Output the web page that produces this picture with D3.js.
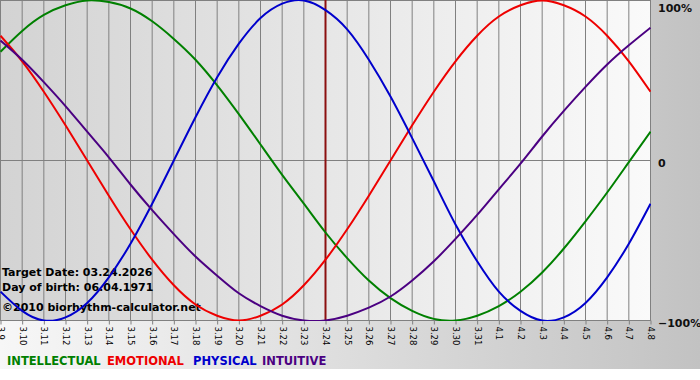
<!DOCTYPE html>
<html>
<head>
<meta charset="utf-8">
<script src="https://cdn.jsdelivr.net/npm/d3@7"></script>
<style>
  body { margin: 0; background: #fff; }
  svg { display: block; }
</style>
</head>
<body>
<div class="chart"></div>
<script>
// --------------------------------------------------------
// DATA (one per day)
// --------------------------------------------------------
const days = ["3.9", "3.10", "3.11", "3.12", "3.13", "3.14", "3.15", "3.16", "3.17", "3.18",
  "3.19", "3.20", "3.21", "3.22", "3.23", "3.24", "3.25", "3.26", "3.27", "3.28", "3.29",
  "3.30", "3.31", "4.1", "4.2", "4.3", "4.4", "4.5", "4.6", "4.7", "4.8"];

const intellectual = [0.68, 0.81, 0.91, 0.97, 1.0, 0.99, 0.95, 0.87, 0.76, 0.63, 0.47, 0.29,
  0.1, -0.09, -0.27, -0.45, -0.61, -0.75, -0.86, -0.94, -0.99, -1.0, -0.97, -0.91, -0.82,
  -0.7, -0.55, -0.38, -0.2, -0.01, 0.18];

const emotional = [0.78, 0.62, 0.43, 0.22, 0, -0.22, -0.43, -0.62, -0.78, -0.9, -0.97, -1.0,
  -0.97, -0.9, -0.78, -0.62, -0.43, -0.22, 0, 0.22, 0.43, 0.62, 0.78, 0.9, 0.97, 1.0, 0.97,
  0.9, 0.78, 0.62, 0.43];

const physical = [-0.82, -0.94, -1.0, -0.98, -0.89, -0.73, -0.52, -0.27, 0, 0.27, 0.52, 0.73,
  0.89, 0.98, 1.0, 0.94, 0.82, 0.63, 0.4, 0.14, -0.13, -0.4, -0.63, -0.82, -0.94, -1.0, -0.98,
  -0.89, -0.73, -0.52, -0.27];

const intuitive = [0.75, 0.63, 0.49, 0.34, 0.18, 0.02, -0.15, -0.31, -0.46, -0.6, -0.72, -0.83,
  -0.91, -0.97, -1.0, -1.0, -0.97, -0.92, -0.85, -0.75, -0.63, -0.49, -0.34, -0.18, -0.02,
  0.15, 0.31, 0.46, 0.6, 0.72, 0.83];

const seriesNames = ["INTELLECTUAL", "EMOTIONAL", "PHYSICAL", "INTUITIVE"];
const seriesColors = ["#008000", "#ee0000", "#0000cc", "#4b0082"];
const percentTicks = [1, 0, -1];
const targetDay = "3.24";
const infoLines = ["Target Date: 03.24.2026", "Day of birth: 06.04.1971", "\u00a92010 biorhythm-calculator.net"];

// --------------------------------------------------------
// LAYOUT
// --------------------------------------------------------
const width = 700;
const height = 380;
const panelHeight = 369;
const plotW = 650;
const plotH = 320;

const svg = d3.select(".chart")
  .append("svg")
  .attr("width", width)
  .attr("height", height);

const defs = svg.append("defs");

// outer panel: light on the left, darker grey on the right
const bgGrad = defs.append("linearGradient").attr("id", "bgGrad");
bgGrad.append("stop").attr("offset", "0%").attr("stop-color", "#f7f7f7");
bgGrad.append("stop").attr("offset", "90%").attr("stop-color", "#c8c8c8");
bgGrad.append("stop").attr("offset", "100%").attr("stop-color", "#c2c2c2");

// plot area: darker on the left, near white on the right
const plotGrad = defs.append("linearGradient").attr("id", "plotGrad");
plotGrad.append("stop").attr("offset", "0%").attr("stop-color", "#d3d3d3");
plotGrad.append("stop").attr("offset", "100%").attr("stop-color", "#fafafa");

defs.append("clipPath").attr("id", "plotClip")
  .append("rect").attr("x", 0).attr("y", 0).attr("width", plotW + 1).attr("height", plotH + 1);

svg.append("rect")
  .attr("width", width)
  .attr("height", panelHeight)
  .attr("fill", "url(#bgGrad)");

svg.append("rect")
  .attr("width", plotW)
  .attr("height", plotH)
  .attr("fill", "url(#plotGrad)");

// --------------------------------------------------------
// SCALES
// --------------------------------------------------------
const x = d3.scalePoint().domain(days).range([0.5, plotW + 0.5]);
const y = d3.scaleLinear().domain([-1, 1]).range([plotH + 0.5, 0.5]);

// vertical day grid
svg.append("g")
  .selectAll("line")
  .data(days)
  .join("line")
  .attr("x1", (d) => x(d))
  .attr("x2", (d) => x(d))
  .attr("y1", 0)
  .attr("y2", plotH)
  .attr("stroke", "#808080")
  .attr("stroke-width", 1);

// horizontal lines at 100%, 0, -100%
svg.append("g")
  .selectAll("line")
  .data(percentTicks)
  .join("line")
  .attr("x1", 0)
  .attr("x2", plotW + 1)
  .attr("y1", (d) => y(d))
  .attr("y2", (d) => y(d))
  .attr("stroke", "#808080")
  .attr("stroke-width", 1);

// bottom axis with rotated day labels
const xAxis = svg.append("g")
  .attr("transform", `translate(0,${plotH + 0.5})`)
  .call(d3.axisBottom(x).tickSize(4).tickSizeOuter(0));

xAxis.select(".domain").remove();
xAxis.selectAll(".tick line").attr("stroke", "#808080");
xAxis.selectAll(".tick text")
  .attr("transform", "rotate(90)")
  .attr("x", 6)
  .attr("y", 0)
  .attr("dy", "0.35em")
  .attr("text-anchor", "start")
  .attr("fill", "#000")
  .style("font-family", "'DejaVu Sans', Verdana, sans-serif")
  .style("font-size", "8.5px");

// right side percent labels
svg.append("g")
  .selectAll("text")
  .data(percentTicks)
  .join("text")
  .attr("x", 658)
  .attr("y", (d) => Math.max(y(d) + 6, 12))
  .attr("fill", "#111")
  .style("font-family", "'DejaVu Sans', Verdana, sans-serif")
  .style("font-weight", "bold")
  .style("font-size", "11px")
  .text((d) => (d === 0 ? "0" : d3.format(".0%")(d)));

// info text (drawn below curves)
svg.append("g")
  .selectAll("text")
  .data(infoLines)
  .join("text")
  .attr("x", 2)
  .attr("y", (d, i) => [276, 291, 311][i])
  .attr("fill", "#000")
  .style("font-family", "'DejaVu Sans', Verdana, sans-serif")
  .style("font-weight", "bold")
  .style("font-size", "11px")
  .text((d) => d);

// --------------------------------------------------------
// CURVES
// --------------------------------------------------------
const series = [intellectual, emotional, physical, intuitive].map((values, i) => ({
  name: seriesNames[i],
  color: seriesColors[i],
  values: values,
}));

const line = d3.line()
  .x((d, i) => x(days[i]))
  .y((d) => y(d))
  .curve(d3.curveNatural);

const curves = svg.append("g").attr("clip-path", "url(#plotClip)");

// target date marker
curves.append("line")
  .attr("x1", x(targetDay))
  .attr("x2", x(targetDay))
  .attr("y1", 0)
  .attr("y2", plotH)
  .attr("stroke", "#8b1010")
  .attr("stroke-width", 2);

curves.selectAll("path")
  .data(series)
  .join("path")
  .attr("d", (d) => line(d.values))
  .attr("fill", "none")
  .attr("stroke", (d) => d.color)
  .attr("stroke-width", 2)
  .attr("stroke-linejoin", "round");

// --------------------------------------------------------
// LEGEND
// --------------------------------------------------------
svg.append("g")
  .selectAll("text")
  .data(series)
  .join("text")
  .attr("x", (d, i) => [7, 107, 193, 262][i])
  .attr("y", 365)
  .attr("fill", (d) => d.color)
  .style("font-family", "'DejaVu Sans', Verdana, sans-serif")
  .style("font-weight", "bold")
  .style("font-size", "11.5px")
  .text((d) => d.name);
</script>
</body>
</html>
